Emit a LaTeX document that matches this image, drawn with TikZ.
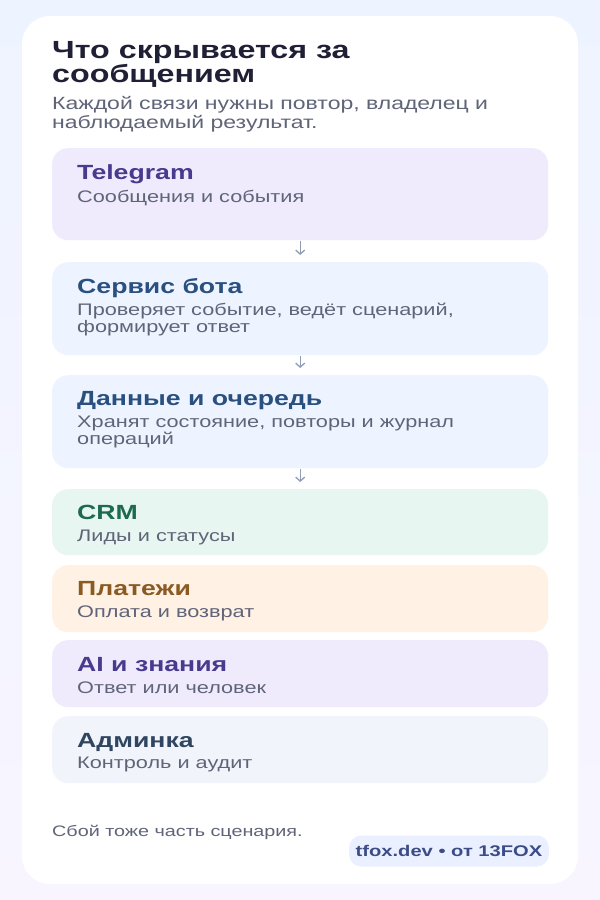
\documentclass[tikz,border=0pt]{standalone}
\usepackage{fontspec}
\setmainfont{Liberation Sans}[FakeStretch=1.3]
\usetikzlibrary{positioning,arrows.meta}
\definecolor{bgtop}{HTML}{EEF4FF}
\definecolor{bgbot}{HTML}{F8F5FF}
\definecolor{titlecol}{HTML}{1F1F35}
\definecolor{subgray}{HTML}{5F6478}
\definecolor{tgfill}{HTML}{EFEBFD}
\definecolor{tgtext}{HTML}{4A3A8E}
\definecolor{botfill}{HTML}{EDF4FF}
\definecolor{bottext}{HTML}{2A5080}
\definecolor{crmfill}{HTML}{E7F6F1}
\definecolor{crmtext}{HTML}{1E6A4F}
\definecolor{payfill}{HTML}{FFF1E4}
\definecolor{paytext}{HTML}{8A5A22}
\definecolor{admfill}{HTML}{F1F5FB}
\definecolor{admtext}{HTML}{2F4560}
\definecolor{badgefill}{HTML}{EAF0FF}
\definecolor{badgetext}{HTML}{3B4C86}
\definecolor{arrowcol}{HTML}{8F9CB8}
\begin{document}
\begin{tikzpicture}[x=1pt,y=-1pt,
    box/.style={rounded corners=16pt, anchor=north west, minimum width=496pt, inner sep=0pt},
    head/.style={anchor=base west, inner sep=0pt, font=\fontsize{20.5}{22}\selectfont\bfseries},
    note/.style={anchor=base west, inner sep=0pt, text=subgray, font=\fontsize{16.7}{18}\selectfont},
    flow/.style={-{Straight Barb[length=4pt,width=9pt]}, arrowcol, line width=1.3pt, shorten <=1pt, shorten >=7pt}]
    \useasboundingbox (0,0) rectangle (600,900);
    \shade[top color=bgtop, bottom color=bgbot] (0,0) rectangle (600,900);
    \fill[white, rounded corners=28pt] (22,16) rectangle (578,884);
    % title
    \node[anchor=base west, inner sep=0pt, text=titlecol, font=\fontsize{24.8}{26}\selectfont\bfseries] (title1) at (52,58) {Что скрывается за};
    \node[anchor=base west, inner sep=0pt, text=titlecol, font=\fontsize{24.8}{26}\selectfont\bfseries] (title2) at (52,82) {сообщением};
    \node[note, font=\fontsize{17.7}{19}\selectfont] (lead1) at (52,109) {Каждой связи нужны повтор, владелец и};
    \node[note, font=\fontsize{17.7}{19}\selectfont] (lead2) at (52,128) {наблюдаемый результат.};
    % boxes
    \node[box, fill=tgfill, minimum height=92pt] (tg) at (52,148) {};
    \node[head, text=tgtext] at (77,179) {Telegram};
    \node[note] at (77,202) {Сообщения и события};
    \node[box, fill=botfill, minimum height=93pt] (bot) at (52,262) {};
    \node[head, text=bottext] at (77,293) {Сервис бота};
    \node[note] at (77,315) {Проверяет событие, ведёт сценарий,};
    \node[note] at (77,332) {формирует ответ};
    \node[box, fill=botfill, minimum height=93pt] (data) at (52,375) {};
    \node[head, text=bottext] at (77,405) {Данные и очередь};
    \node[note] at (77,427) {Хранят состояние, повторы и журнал};
    \node[note] at (77,444) {операций};
    \node[box, fill=crmfill, minimum height=66pt] (crm) at (52,489) {};
    \node[head, text=crmtext] at (77,519) {CRM};
    \node[note] at (77,541) {Лиды и статусы};
    \node[box, fill=payfill, minimum height=67pt] (pay) at (52,565) {};
    \node[head, text=paytext] at (77,595) {Платежи};
    \node[note] at (77,617) {Оплата и возврат};
    \node[box, fill=tgfill, minimum height=67pt] (ai) at (52,640) {};
    \node[head, text=tgtext] at (77,671) {AI и знания};
    \node[note] at (77,693) {Ответ или человек};
    \node[box, fill=admfill, minimum height=67pt] (adm) at (52,716) {};
    \node[head, text=admtext] at (77,747) {Админка};
    \node[note] at (77,768) {Контроль и аудит};
    % arrows
    \draw[flow] (tg.south) -- (bot.north);
    \draw[flow] (bot.south) -- (data.north);
    \draw[flow] (data.south) -- (crm.north);
    % footer
    \node[note, font=\fontsize{15.2}{16}\selectfont] (foot) at (52,836) {Сбой тоже часть сценария.};
    \node[anchor=east, fill=badgefill, text=badgetext, rounded corners=12pt, minimum height=31pt, inner xsep=6.5pt,
        font=\fontsize{15.5}{16}\selectfont\bfseries] (badge) at (549,851) {tfox.dev • от 13FOX};
\end{tikzpicture}
\end{document}
